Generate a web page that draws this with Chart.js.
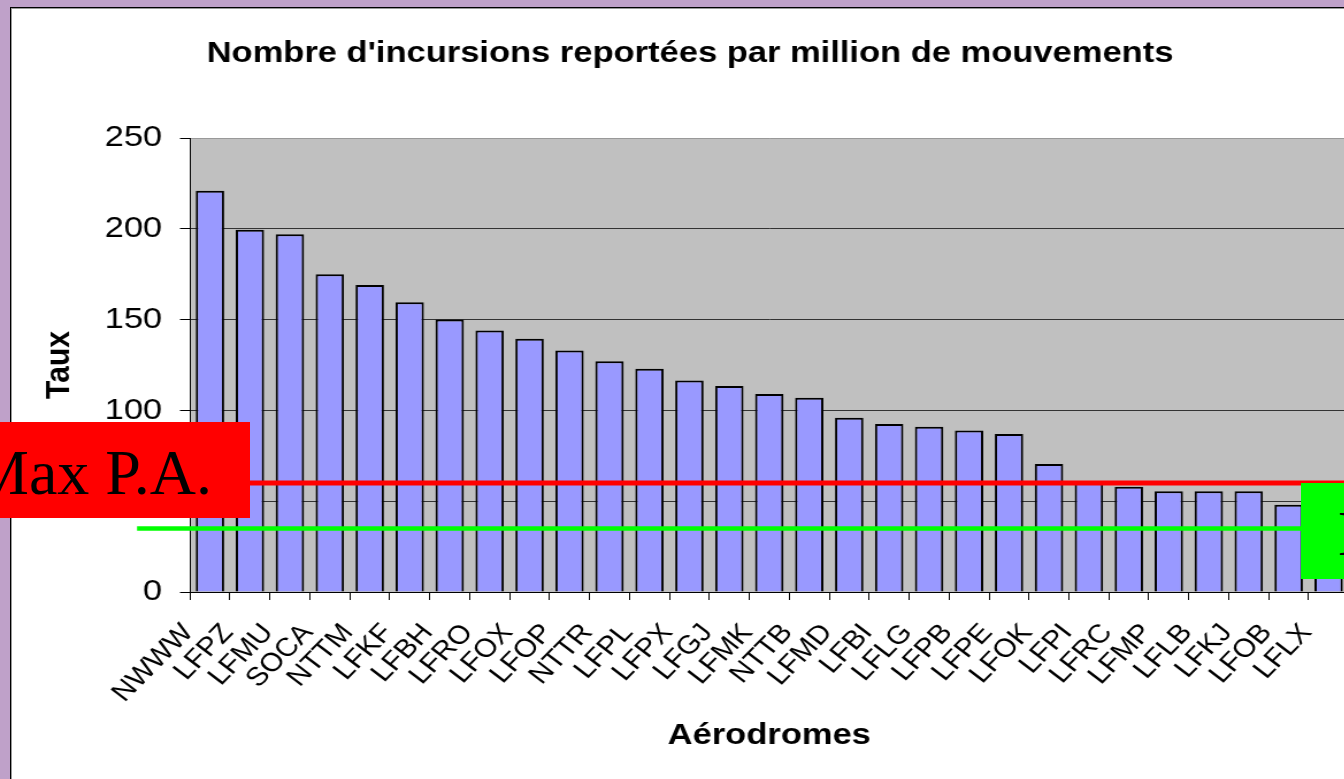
<!DOCTYPE html>
<html lang="fr">
<head>
<meta charset="utf-8">
<title>Incursions par million de mouvements</title>
<script src="https://cdn.jsdelivr.net/npm/chart.js@4.4.1/dist/chart.umd.min.js"></script>
<style>
  html, body { margin: 0; padding: 0; width: 1344px; height: 779px; overflow: hidden; background: #bfa1c9; }
  #cadre { position: absolute; left: 10px; top: 7px; width: 1400px; height: 800px; background: #fff;
           border-left: 1px solid #000; border-top: 1px solid #000; box-shadow: inset 1px 1px 0 #999; }
  /* le graphique d'origine est étiré horizontalement */
  #zone { position: absolute; left: 0; top: 0; width: 1200px; height: 779px; transform: scaleX(1.15); transform-origin: 0 0; }
  .etiquette { position: absolute; height: 96px; width: 315px; box-sizing: border-box; padding-left: 37px; padding-top: 19px;
               font: 64px/64px "Liberation Serif", "Times New Roman", serif; color: #000; white-space: nowrap; overflow: hidden; }
  #maxPA { left: -65px; top: 422px; background: #ff0000; }
  #minPA { left: 1301px; top: 483px; background: #00ff00; }
</style>
</head>
<body>
<div id="cadre"></div>
<div id="zone"><canvas id="graphique" width="1200" height="779"></canvas></div>
<div class="etiquette" id="maxPA">Max P.A.</div>
<div class="etiquette" id="minPA">Min P.A.</div>
<script>
// Données
const aerodromes = ['NWWW', 'LFPZ', 'LFMU', 'SOCA', 'NTTM', 'LFKF', 'LFBH', 'LFRO', 'LFOX', 'LFOP',
                    'NTTR', 'LFPL', 'LFPX', 'LFGJ', 'LFMK', 'NTTB', 'LFMD', 'LFBI', 'LFLG', 'LFPB',
                    'LFPE', 'LFOK', 'LFPI', 'LFRC', 'LFMP', 'LFLB', 'LFKJ', 'LFOB', 'LFLX'];
const taux = [221, 199.5, 197, 175, 169, 159.5, 150, 144, 139.5, 133,
              127, 123, 116.5, 113.5, 109, 107, 96, 92.5, 91, 89,
              87, 70.5, 60, 58, 55.5, 55.5, 55.5, 48, 45];
const graduations = [0, 50, 100, 150, 200, 250];
const seuilMax = 60; // ligne rouge
const seuilMin = 35; // ligne verte

const police = 'Liberation Sans, Arial, sans-serif';

// Fond gris de la zone de tracé + lignes de seuil
const fondEtSeuils = {
    id: 'fondEtSeuils',
    beforeDraw(chart) {
        const { ctx, chartArea: a } = chart;
        ctx.save();
        ctx.fillStyle = '#c0c0c0';
        ctx.fillRect(a.left, a.top, a.right - a.left, a.bottom - a.top);
        ctx.restore();
    },
    afterDraw(chart) {
        const { ctx, chartArea: a, scales: { y } } = chart;
        const debut = a.left - 46;
        ctx.save();
        ctx.lineWidth = 5;
        ctx.strokeStyle = '#ff0000';
        ctx.beginPath();
        ctx.moveTo(debut, y.getPixelForValue(seuilMax));
        ctx.lineTo(chart.width, y.getPixelForValue(seuilMax));
        ctx.stroke();
        ctx.lineWidth = 4.5;
        ctx.strokeStyle = '#00ff00';
        ctx.beginPath();
        ctx.moveTo(debut, y.getPixelForValue(seuilMin));
        ctx.lineTo(chart.width, y.getPixelForValue(seuilMin));
        ctx.stroke();
        ctx.restore();
    }
};

new Chart(document.getElementById('graphique'), {
    type: 'bar',
    data: {
        labels: aerodromes,
        datasets: [{
            data: taux,
            backgroundColor: '#9999ff',
            borderColor: '#000',
            borderWidth: 2,
            barPercentage: 0.71,
            categoryPercentage: 1
        }]
    },
    options: {
        responsive: false,
        animation: false,
        // marges gauche/droite égales pour que le titre reste centré
        layout: { padding: { left: 27.3, right: 27.3, top: 0, bottom: 0 } },
        plugins: {
            legend: { display: false },
            tooltip: { enabled: false },
            title: {
                display: true,
                text: "Nombre d'incursions reportées par million de mouvements",
                color: '#000',
                font: { family: police, size: 30, weight: 'bold' },
                padding: { top: 36, bottom: 66 }
            }
        },
        scales: {
            x: {
                grid: { drawOnChartArea: false, offset: true, tickLength: 8, color: '#000', tickColor: '#000' },
                border: { color: '#000', width: 1 },
                ticks: {
                    autoSkip: false, minRotation: 49, maxRotation: 49,
                    labelOffset: -19, padding: 18, color: '#000',
                    font: { family: police, size: 26 }
                },
                title: {
                    display: true, text: 'Aérodromes', color: '#000',
                    font: { family: police, size: 30, weight: 'bold' },
                    padding: { top: 0, bottom: 25.5 }
                },
                afterFit(s) { s.height = 187; s.paddingLeft = 0; s.paddingRight = 0; }
            },
            y: {
                min: 0,
                max: 250,
                afterBuildTicks(s) { s.ticks = graduations.map(v => ({ value: v })); },
                grid: {
                    color: c => (c.tick && c.tick.value === 250) ? '#999' : '#333',
                    tickLength: 8.7,
                    tickColor: '#000'
                },
                border: { color: '#000', width: 1 },
                ticks: { padding: 15.5, color: '#000', font: { family: police, size: 30 } },
                title: {
                    display: true, text: 'Taux', color: '#000',
                    font: { family: police, size: 30, weight: 'bold' },
                    padding: { top: 6.7, bottom: 0 }
                },
                afterFit(s) { s.width = 137.9; }
            }
        }
    },
    plugins: [fondEtSeuils]
});
</script>
</body>
</html>
